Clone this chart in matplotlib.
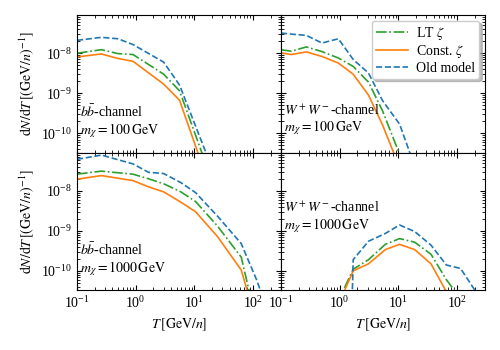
import numpy as np
import matplotlib
matplotlib.use("Agg")
import matplotlib.pyplot as plt

plt.rcParams["font.family"] = ["Liberation Serif", "DejaVu Serif"]
plt.rcParams["mathtext.fontset"] = "stix"
plt.rcParams["font.size"] = 10

# bb-channel, m = 100 GeV
T_bb100 = [0.1, 0.26, 0.5, 0.9, 3.0, 5.6, 18.0]
lt_bb100 = [1.0e-8, 1.23e-8, 9.8e-9, 9.3e-9, 3.0e-9, 1.15e-9, 1e-11]
const_bb100 = [8.1e-9, 9.6e-9, 7.4e-9, 6.3e-9, 1.7e-9, 6.7e-10, 5e-12]
old_bb100 = [2.1e-8, 2.5e-8, 2.3e-8, 1.65e-8, 6.0e-9, 1.6e-9, 2e-11]

# WW-channel, m = 100 GeV
T_ww100 = [0.1, 0.15, 0.27, 0.5, 0.95, 1.7, 3.1, 5.4, 10.5, 19.0]
lt_ww100 = [1.23e-8, 1.12e-8, 1.44e-8, 1.1e-8, 7.6e-9, 4.7e-9, 1.9e-9, 3.6e-10, 3e-11, 1e-13]
const_ww100 = [1.02e-8, 9.3e-9, 1.08e-8, 8.3e-9, 5.7e-9, 3.0e-9, 9e-10, 1.6e-10, 1.4e-11, 1e-13]
old_ww100 = [3.2e-8, 3.0e-8, 2.8e-8, 1.8e-8, 2.3e-8, 7e-9, 3.2e-9, 6.5e-10, 1.7e-10, 1.5e-11]

# bb-channel, m = 1000 GeV
T_bb1000 = [0.1, 0.26, 0.9, 1.65, 3.0, 5.9, 10.5, 25.0, 63.0, 115.0, 210.0]
lt_bb1000 = [2.6e-8, 3.1e-8, 2.6e-8, 2.0e-8, 1.5e-8, 9.4e-9, 5.4e-9, 1.3e-9, 2.2e-10, 5e-12, 1e-13]
const_bb1000 = [1.95e-8, 2.4e-8, 1.8e-8, 1.26e-8, 9.4e-9, 5.2e-9, 3.0e-9, 7.1e-10, 1.05e-10, 5e-12, 1e-13]
old_bb1000 = [6.1e-8, 7.8e-8, 4.7e-8, 2.9e-8, 2.7e-8, 1.6e-8, 9e-9, 2.3e-9, 4.8e-10, 6e-11, 5e-12]

# WW-channel, m = 1000 GeV
T_ww1000 = [0.9, 1.7, 3.1, 6.0, 10.5, 19.0, 36.0, 66.0, 115.0, 210.0]
lt_ww1000 = [1.5e-11, 1.1e-10, 1.9e-10, 4.6e-10, 6.4e-10, 5.2e-10, 2.6e-10, 6e-11, 2e-11, 1e-13]
const_ww1000 = [1.2e-11, 1.0e-10, 1.5e-10, 3.4e-10, 4.6e-10, 3.4e-10, 1.5e-10, 3e-11, 1e-13, 1e-15]
old_ww1000 = [1e-25, 1.9e-10, 5.5e-10, 8.6e-10, 1.4e-9, 9.6e-10, 4.4e-10, 1.4e-10, 1.15e-10, 3e-11]

panels = [
    (T_bb100, lt_bb100, const_bb100, old_bb100, r"$b\bar{b}$-channel", r"$m_\chi = 100\,\mathrm{GeV}$", 0.09),
    (T_ww100, lt_ww100, const_ww100, old_ww100, r"$W^+W^-$-channel", r"$m_\chi = 100\,\mathrm{GeV}$", 0.11),
    (T_bb1000, lt_bb1000, const_bb1000, old_bb1000, r"$b\bar{b}$-channel", r"$m_\chi = 1000\,\mathrm{GeV}$", 0.09),
    (T_ww1000, lt_ww1000, const_ww1000, old_ww1000, r"$W^+W^-$-channel", r"$m_\chi = 1000\,\mathrm{GeV}$", 0.40),
]

fig, axes = plt.subplots(2, 2, figsize=(5, 3.5), dpi=100, sharex=True, sharey=True)
fig.subplots_adjust(left=0.154, right=0.97, top=0.957, bottom=0.171, wspace=0, hspace=0)

for ax, (T, lt, const, old, chan, mass, ty) in zip(axes.flat, panels):
    ax.plot(T, lt, color="#2ca02c", linestyle="-.", lw=1.2, label=r"LT $\zeta$")
    ax.plot(T, const, color="#ff7f0e", linestyle="-", lw=1.2, label=r"Const. $\zeta$")
    ax.plot(T, old, color="#1f77b4", linestyle="--", lw=1.2, label="Old model")
    ax.set_xscale("log")
    ax.set_yscale("log")
    ax.set_xlim(0.1, 300)
    ax.set_ylim(3.3e-11, 9e-8)
    ax.tick_params(which="both", direction="in", top=True, right=True)
    ax.text(0.015, ty, chan + "\n" + mass, transform=ax.transAxes,
            ha="left", va="bottom", fontsize=10, linespacing=1.1)

for ax in axes[:, 0]:
    ax.set_ylabel(r"$\mathrm{d}N/\mathrm{d}T\,[(\mathrm{GeV}/n)^{-1}]$")
for ax in axes[1, :]:
    ax.set_xlabel(r"$T\,[\mathrm{GeV}/n]$")

axes[0, 1].legend(loc="upper right", fontsize=10, fancybox=True,
                  shadow={"color": "0.6", "alpha": 0.6}, framealpha=1,
                  edgecolor="0.8", handlelength=2.3, borderaxespad=0.4,
                  labelspacing=0.1, borderpad=0.3, handletextpad=0.6)

plt.savefig("out.png", dpi=100)
plt.close()
